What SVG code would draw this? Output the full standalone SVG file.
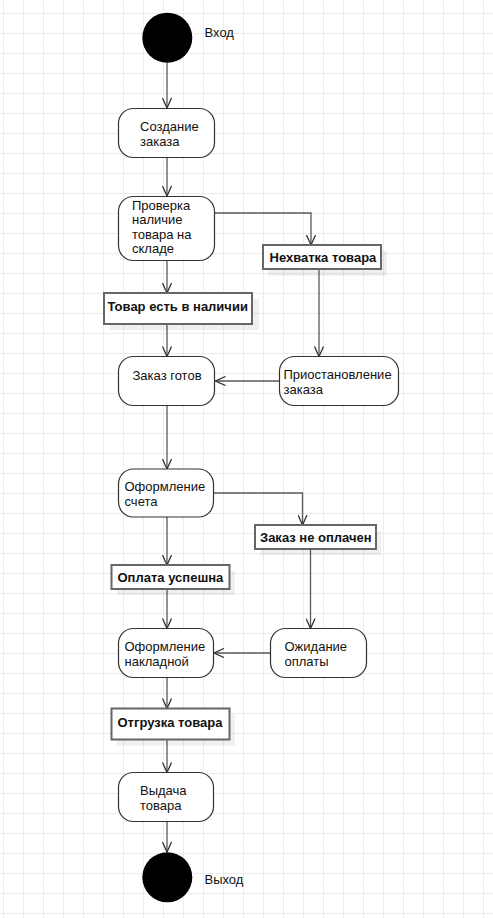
<svg xmlns="http://www.w3.org/2000/svg" width="493" height="918" viewBox="0 0 493 918">
<style>
.node{fill:#fff;stroke:#333;stroke-width:1.2}
.lbl{fill:#fff;stroke:#666;stroke-width:2}
.shd{fill:#000;fill-opacity:0.06}
.t{font-family:"Liberation Sans",Arial,sans-serif;font-size:13px;fill:#111}
.b{font-family:"Liberation Sans",Arial,sans-serif;font-size:13px;font-weight:bold;fill:#111}
.c{fill:none;stroke:#595959;stroke-width:1.3;marker-end:url(#arr)}
</style>
<defs>
<pattern id="grid" x="3" y="13" width="20" height="20" patternUnits="userSpaceOnUse">
<path d="M0.5 0V20M0 0.5H20" fill="none" stroke="#ebebeb" stroke-width="1"/>
</pattern>
<marker id="arr" viewBox="0 0 12 10" refX="11" refY="5" markerWidth="12" markerHeight="10" markerUnits="userSpaceOnUse" orient="auto">
<path d="M1 0.5L11 5L1 9.5" fill="none" stroke="#333" stroke-width="1.3"/>
</marker>
</defs>
<rect width="493" height="918" fill="#fff"/>
<rect width="493" height="918" fill="url(#grid)"/>
<g id="connectors">
<path class="c" d="M167 63V108"/>
<path class="c" d="M167 158V196"/>
<path class="c" d="M214.5 213H311V245"/>
<path class="c" d="M167 261V293"/>
<path class="c" d="M167 324V356.5"/>
<path class="c" d="M319 270V356.5"/>
<path class="c" d="M279.5 381H215.5"/>
<path class="c" d="M167 405.5V469"/>
<path class="c" d="M213.5 493H302.5V525"/>
<path class="c" d="M167 517V565"/>
<path class="c" d="M167 589V628.5"/>
<path class="c" d="M310.5 549V628.5"/>
<path class="c" d="M270.5 653H214"/>
<path class="c" d="M167 677.5V708.5"/>
<path class="c" d="M167 740V772.5"/>
<path class="c" d="M167 821.5V852"/>
</g>
<g id="start">
<circle cx="167.3" cy="37.7" r="25" fill="#000"/>
<text class="t" x="204.5" y="37">Вход</text>
</g>
<g id="create">
<rect class="node" x="118.5" y="108.5" width="96" height="49" rx="15"/>
<text class="t" x="140" y="131.25">Создание</text>
<text class="t" x="140" y="145.75">заказа</text>
</g>
<g id="check">
<rect class="node" x="118.5" y="196.5" width="96" height="64" rx="15"/>
<text class="t" x="132" y="209.75">Проверка</text>
<text class="t" x="132" y="224.25">наличие</text>
<text class="t" x="132" y="238.75">товара на</text>
<text class="t" x="132" y="253.25">складе</text>
</g>
<g id="shortage">
<rect class="shd" x="268" y="251" width="119" height="25"/>
<rect class="lbl" x="263" y="245" width="118" height="24"/>
<text class="b" x="269.5" y="262">Нехватка товара</text>
</g>
<g id="instock">
<rect class="shd" x="110" y="299" width="149" height="31"/>
<rect class="lbl" x="104" y="293" width="148" height="31"/>
<text class="b" x="107.5" y="310.5">Товар есть в наличии</text>
</g>
<g id="ready">
<rect class="node" x="118.5" y="356.5" width="96" height="49" rx="15"/>
<text class="t" x="132.5" y="380">Заказ готов</text>
</g>
<g id="suspend">
<rect class="node" x="279.5" y="356.5" width="119" height="49" rx="15"/>
<text class="t" x="283.5" y="379.25">Приостановление</text>
<text class="t" x="283.5" y="393.75">заказа</text>
</g>
<g id="invoice">
<rect class="node" x="118.5" y="469" width="95" height="48" rx="15"/>
<text class="t" x="124.5" y="491.25">Оформление</text>
<text class="t" x="124.5" y="505.75">счета</text>
</g>
<g id="unpaid">
<rect class="shd" x="260" y="531" width="121" height="24"/>
<rect class="lbl" x="255" y="525" width="121" height="24"/>
<text class="b" x="260" y="542">Заказ не оплачен</text>
</g>
<g id="paid">
<rect class="shd" x="117" y="571" width="118" height="24"/>
<rect class="lbl" x="111.5" y="565" width="118" height="24"/>
<text class="b" x="117.5" y="582">Оплата успешна</text>
</g>
<g id="waybill">
<rect class="node" x="118.5" y="628.5" width="95" height="49" rx="15"/>
<text class="t" x="124.5" y="651.25">Оформление</text>
<text class="t" x="124.5" y="665.75">накладной</text>
</g>
<g id="waiting">
<rect class="node" x="270.5" y="628.5" width="96" height="49" rx="15"/>
<text class="t" x="284.5" y="651.25">Ожидание</text>
<text class="t" x="284.5" y="665.75">оплаты</text>
</g>
<g id="shipping">
<rect class="shd" x="117" y="714.5" width="118" height="31"/>
<rect class="lbl" x="111.5" y="708.5" width="118" height="31"/>
<text class="b" x="117.5" y="726.5">Отгрузка товара</text>
</g>
<g id="issue">
<rect class="node" x="118.5" y="772.5" width="95" height="49" rx="15"/>
<text class="t" x="140" y="795.25">Выдача</text>
<text class="t" x="140" y="809.75">товара</text>
</g>
<g id="end">
<circle cx="167.3" cy="877.3" r="25" fill="#000"/>
<text class="t" x="204.5" y="884">Выход</text>
</g>
</svg>
